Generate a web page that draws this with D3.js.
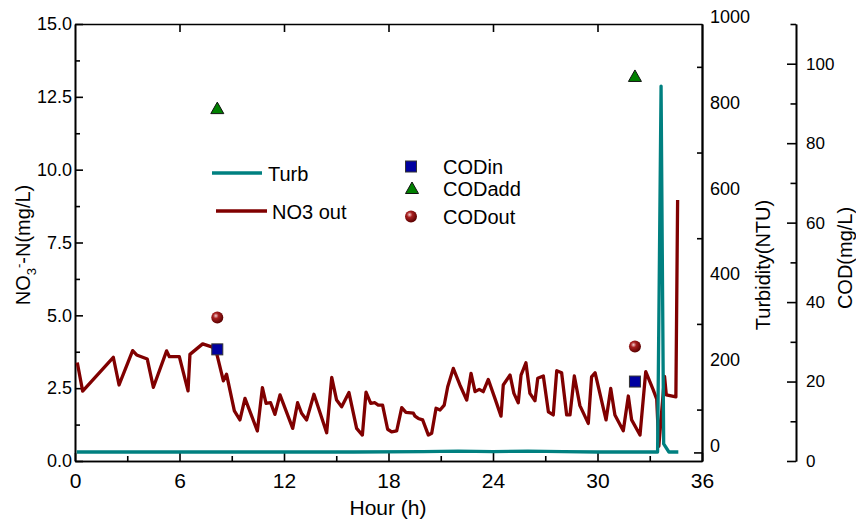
<!DOCTYPE html>
<html>
<head>
<meta charset="utf-8">
<script src="https://cdn.jsdelivr.net/npm/d3@7"></script>
<style>
  html,body{margin:0;padding:0;background:#fff;}
  svg{display:block;}
</style>
</head>
<body>
<svg id="chart" width="856" height="526"></svg>
<script>
// ---- data ----
const no3Hours = [0.13,0.44,2.2,2.53,3.31,3.54,4.15,4.5,5.26,5.42,5.99,6.49,6.6,7.33,7.94,8.13,8.52,8.7,9.15,9.47,
  9.76,10.47,10.76,10.97,11.23,11.48,11.77,12.5,12.78,13.01,13.3,13.72,14.45,14.74,15.02,15.31,15.73,16.17,16.5,16.71,
  16.98,17.22,17.41,17.66,17.95,18.18,18.47,18.76,19.0,19.43,19.52,19.71,19.96,20.29,20.48,20.73,20.96,21.2,21.4,21.72,
  22.1,22.49,22.74,22.97,23.21,23.44,23.73,24.11,24.46,24.59,24.98,25.2,25.45,25.61,25.89,26.12,26.41,26.57,26.89,27.18,
  27.46,27.66,27.94,28.23,28.42,28.67,28.99,29.47,29.66,29.86,30.49,30.76,31.0,31.48,31.77,31.96,32.44,32.77,33.2,33.4,
  33.52,33.85,33.95,34.5,34.6];
const no3Values = [3.38,2.4,3.56,2.61,3.79,3.64,3.5,2.53,3.78,3.58,3.58,2.41,3.66,4.02,3.9,3.7,2.75,2.98,1.72,1.41,
  2.15,1.03,2.52,1.98,2.0,1.6,2.27,1.12,2.0,1.64,1.41,2.29,0.97,2.87,2.09,1.86,2.35,1.12,0.89,2.36,
  1.98,2.0,1.92,1.92,1.09,1.0,1.03,1.83,1.67,1.64,1.54,1.46,1.41,0.89,0.95,1.81,1.75,1.92,2.55,3.18,
  2.61,2.09,3.01,2.38,2.46,2.38,2.8,2.15,1.54,2.61,2.95,2.32,2.0,2.95,3.37,2.32,2.07,2.84,2.92,1.69,
  1.58,3.1,3.03,1.58,1.58,2.92,1.9,1.29,2.89,3.03,1.41,2.49,1.58,1.04,2.23,1.41,0.89,3.07,2.44,2.12,
  0.5,2.9,2.27,2.2,8.96];

const turbHours  = [0.1,4,8,12,16,20,22,24,26,28,30,33.45,33.65,33.8,34.1,34.64];
const turbValues = [1,1,1,1,1,2,3,2,3,2,1,1,855,20,1,1];

const codHours = [8.17,32.15];
const codIn    = [28.1,20.0];
const codAdd   = [88.7,96.8];
const codOut   = [36.1,28.8];

const hourTicks  = [0,6,12,18,24,30,36];
const hourMinor  = [3,9,15,21,27,33];
const no3Ticks   = [0,2.5,5,7.5,10,12.5,15];
const no3Minor   = [1.25,3.75,6.25,8.75,11.25,13.75];
const turbTicks  = [0,200,400,600,800,1000];
const turbMinor  = [100,300,500,700,900];
const codTicks   = [0,20,40,60,80,100];
const codMinor   = [10,30,50,70,90,110];

// ---- setup ----
const FONT = '"Liberation Sans", Arial, Helvetica, sans-serif';
const RED = '#800000', TEAL = '#008080';
const svg = d3.select('#chart');
const L = 75, R = 702, T = 24, B = 461;

const x  = d3.scaleLinear([0,36],[L,R]);
const yN = d3.scaleLinear([0,15],[B,T]);
const yT = d3.scaleLinear([-20,1000],[B,T]);
const yC = d3.scaleLinear([0,110],[B,T]);

function styleAxis(g, size){
  g.attr('font-family', FONT).attr('font-size', size);
  g.selectAll('path.domain, line').attr('stroke','#000').attr('stroke-width',1.6);
  g.selectAll('text').attr('fill','#000');
  return g;
}

// sphere gradient
const defs = svg.append('defs');
const grad = defs.append('radialGradient').attr('id','ball').attr('cx','38%').attr('cy','35%').attr('r','65%');
grad.append('stop').attr('offset','0%').attr('stop-color','#f4d0d0');
grad.append('stop').attr('offset','35%').attr('stop-color','#a82020');
grad.append('stop').attr('offset','100%').attr('stop-color','#5a0000');

// ---- axes ----
styleAxis(svg.append('g').attr('transform',`translate(${L},0)`)
  .call(d3.axisLeft(yN).tickValues(no3Ticks).tickFormat(d3.format('.1f')).tickSizeInner(-8).tickSizeOuter(0).tickPadding(3)), 18);
styleAxis(svg.append('g').attr('transform',`translate(${L},0)`)
  .call(d3.axisLeft(yN).tickValues(no3Minor).tickFormat('').tickSizeInner(-5).tickSizeOuter(0)), 18);

styleAxis(svg.append('g').attr('transform',`translate(0,${B})`)
  .call(d3.axisBottom(x).tickValues(hourTicks).tickFormat(d3.format('d')).tickSizeInner(-8).tickSizeOuter(0).tickPadding(12)), 21);
styleAxis(svg.append('g').attr('transform',`translate(0,${B})`)
  .call(d3.axisBottom(x).tickValues(hourMinor).tickFormat('').tickSizeInner(-5).tickSizeOuter(0)), 21);

styleAxis(svg.append('g').attr('transform',`translate(0,${T})`)
  .call(d3.axisTop(x).tickValues(hourTicks.slice(1,-1)).tickFormat('').tickSizeInner(-8).tickSizeOuter(0)), 18);

// turbidity axis on the right frame (labels sit a bit above their ticks, as in Origin)
const gT = styleAxis(svg.append('g').attr('transform',`translate(${R},0)`)
  .call(d3.axisRight(yT).tickValues(turbTicks).tickFormat(d3.format('d')).tickSize(0).tickPadding(8)), 18);
gT.selectAll('.tick text').attr('y', -7);
styleAxis(svg.append('g').attr('transform',`translate(${R},0)`)
  .call(d3.axisRight(yT).tickValues([0]).tickFormat('').tickSizeInner(-8).tickSizeOuter(0)), 18);
styleAxis(svg.append('g').attr('transform',`translate(${R},0)`)
  .call(d3.axisRight(yT).tickValues(turbMinor).tickFormat('').tickSizeInner(-5).tickSizeOuter(0)), 18);

// COD axis, offset
styleAxis(svg.append('g').attr('transform','translate(796,0)')
  .call(d3.axisRight(yC).tickValues(codTicks).tickFormat(d3.format('d')).tickSizeInner(-9).tickSizeOuter(0).tickPadding(10)), 17);
styleAxis(svg.append('g').attr('transform','translate(796,0)')
  .call(d3.axisRight(yC).tickValues(codMinor).tickFormat('').tickSizeInner(-5.5).tickSizeOuter(0)), 17);

// ---- titles ----
svg.append('text').attr('x',388).attr('y',515).attr('text-anchor','middle')
  .attr('font-family',FONT).attr('font-size',21).text('Hour (h)');

const lt = svg.append('text').attr('transform','translate(23,245) rotate(-90)').attr('text-anchor','middle')
  .attr('dy','0.35em').attr('font-family',FONT).attr('font-size',20);
lt.append('tspan').text('NO');
lt.append('tspan').attr('font-size',13).attr('dy',6).text('3');
lt.append('tspan').attr('font-size',13).attr('dy',-13).text('-');
lt.append('tspan').attr('dy',7).text('-N(mg/L)');

svg.append('text').attr('transform','translate(763,265) rotate(-90)').attr('text-anchor','middle')
  .attr('dy','0.35em').attr('font-family',FONT).attr('font-size',20).text('Turbidity(NTU)');
svg.append('text').attr('transform','translate(845,258) rotate(-90)').attr('text-anchor','middle')
  .attr('dy','0.35em').attr('font-family',FONT).attr('font-size',20).text('COD(mg/L)');

// ---- series ----
const lineN = d3.line().x(d=>x(d[0])).y(d=>yN(d[1]));
const lineT = d3.line().x(d=>x(d[0])).y(d=>yT(d[1]));

svg.append('path').datum(d3.zip(no3Hours,no3Values)).attr('d',lineN)
  .attr('fill','none').attr('stroke',RED).attr('stroke-width',3.3).attr('stroke-linejoin','round');
svg.append('path').datum(d3.zip(turbHours,turbValues)).attr('d',lineT)
  .attr('fill','none').attr('stroke',TEAL).attr('stroke-width',3.3).attr('stroke-linejoin','round');

function square(g, cx, cy){
  g.append('rect').attr('x',cx-5.5).attr('y',cy-5.5).attr('width',11).attr('height',11)
    .attr('fill','#0000a0').attr('stroke','#333').attr('stroke-width',1);
}
function triangle(g, cx, cy){
  g.append('path').attr('d',`M${cx},${cy-6.5}L${cx+6.5},${cy+5}L${cx-6.5},${cy+5}Z`)
    .attr('fill','#008000').attr('stroke','#111').attr('stroke-width',1);
}
function ball(g, cx, cy){
  g.append('circle').attr('cx',cx).attr('cy',cy).attr('r',6).attr('fill','url(#ball)');
}

const gm = svg.append('g');
codHours.forEach((h,i)=>{
  triangle(gm, x(h), yC(codAdd[i]));
  ball(gm, x(h), yC(codOut[i]));
  square(gm, x(h), yC(codIn[i]));
});

// ---- legend ----
const lg = svg.append('g').attr('font-family',FONT).attr('font-size',20).attr('fill','#000');
lg.append('line').attr('x1',212).attr('x2',262).attr('y1',173).attr('y2',173).attr('stroke',TEAL).attr('stroke-width',3.3);
lg.append('text').attr('x',268).attr('y',180.5).text('Turb');
lg.append('line').attr('x1',216).attr('x2',267).attr('y1',211).attr('y2',211).attr('stroke',RED).attr('stroke-width',3.3);
lg.append('text').attr('x',272).attr('y',219).text('NO3 out');

square(lg, 411, 166.5);
lg.append('text').attr('x',443).attr('y',174).text('CODin');
triangle(lg, 412, 188.5);
lg.append('text').attr('x',443).attr('y',195.5).text('CODadd');
ball(lg, 411, 216.5);
lg.append('text').attr('x',443).attr('y',224).text('CODout');
</script>
</body>
</html>
